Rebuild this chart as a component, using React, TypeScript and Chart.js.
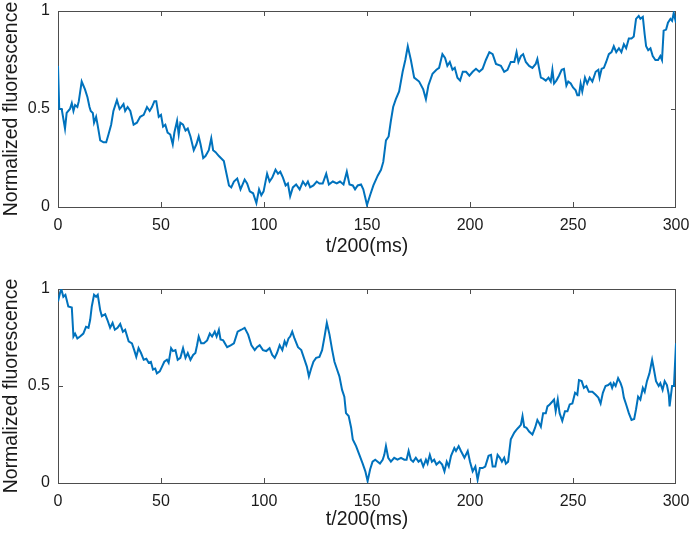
import React, { useEffect, useRef } from "react";
import { Chart, registerables } from "chart.js";

Chart.register(...registerables);

// ---------- data ----------
const topT = [0,0.6,1.8,3.4,4.2,5.8,6.7,7.5,8.3,9.4,10.1,11.5,13.1,14.3,15.3,15.9,16.9,17.5,18.5,19.2,20.5,22.1,23.4,24.5,25.8,26.9,28.6,29.9,30.7,31.8,32.6,33.8,35.1,36.7,38.3,39.9,41.6,43.2,44.5,45.6,46.8,47.7,48.9,50,51,52.1,53.2,54.5,55.7,56.5,57.8,58.6,59.4,60.7,61.9,63,64.3,65.9,67.2,68.3,69.2,70.5,71.6,73.2,74.4,75.3,76.5,78.1,80.5,81.8,83,84.1,85.4,87,88.6,90.6,91.8,93.1,94.7,96.3,97.6,98.7,99.8,101.5,102.7,104,105.6,106.8,107.9,109.2,110.5,111.6,112.7,114,115.6,117.3,118.9,120.2,121.3,122.4,124,125.6,126.9,128.5,130.2,131.5,133.4,135.3,136.9,138.6,140.2,141.5,143.1,144.2,145.5,147.1,148.2,150,151.5,153.1,155.2,156.8,157.9,159.2,160.5,161.6,162.7,164,165.6,167.3,168.6,169.8,171.3,172.9,175.3,177.3,178.6,179.8,181.8,183.7,185,186.6,187.9,189,190.2,191.5,192.6,193.9,195.2,196.5,198.1,199.7,201.3,202.9,204.5,206.1,207.7,209.4,211,212.6,215,216.6,218.2,219.8,221.5,222.6,223.5,224.7,225.8,227.1,228.7,230.3,231.9,232.7,233.5,234.4,235.5,236.8,238.1,239.2,240,240.8,241.9,243.2,244.5,245.6,246.8,247.7,248.9,250,251.3,252.1,252.9,253.7,254.5,255.8,256.9,258.1,259.4,261,262.3,262.9,263.9,265,266.1,267.4,268.7,269.8,271,272.3,273.5,274.7,275.8,277.1,278.4,279.5,280.6,281.9,282.7,283.9,284.8,285.5,286.5,287.6,288.7,290,291.3,292.4,293.2,294,295.2,296.1,297.3,298.1,298.9,300];
const topF = [0.72,0.5,0.5,0.4,0.48,0.5,0.53,0.49,0.52,0.51,0.54,0.64,0.6,0.56,0.51,0.49,0.48,0.43,0.46,0.42,0.34,0.33,0.33,0.37,0.42,0.49,0.545,0.5,0.51,0.525,0.49,0.51,0.49,0.42,0.43,0.46,0.47,0.51,0.49,0.51,0.54,0.54,0.46,0.47,0.41,0.42,0.38,0.37,0.32,0.38,0.44,0.37,0.43,0.42,0.39,0.4,0.36,0.29,0.32,0.36,0.32,0.25,0.26,0.29,0.35,0.29,0.28,0.26,0.235,0.17,0.11,0.1,0.13,0.145,0.09,0.14,0.12,0.08,0.07,0.02,0.09,0.06,0.08,0.17,0.13,0.15,0.19,0.17,0.18,0.15,0.11,0.12,0.055,0.1,0.115,0.09,0.13,0.11,0.13,0.1,0.11,0.13,0.12,0.12,0.17,0.115,0.13,0.12,0.13,0.115,0.18,0.115,0.11,0.09,0.11,0.115,0.09,0.01,0.06,0.11,0.16,0.19,0.23,0.34,0.36,0.44,0.51,0.55,0.59,0.69,0.75,0.82,0.75,0.66,0.64,0.6,0.55,0.62,0.68,0.7,0.71,0.78,0.76,0.72,0.74,0.7,0.71,0.66,0.645,0.69,0.69,0.67,0.69,0.705,0.69,0.705,0.75,0.79,0.78,0.73,0.72,0.69,0.7,0.74,0.74,0.79,0.74,0.77,0.78,0.74,0.72,0.71,0.73,0.755,0.71,0.66,0.655,0.645,0.66,0.64,0.7,0.63,0.645,0.67,0.7,0.705,0.62,0.64,0.63,0.61,0.595,0.57,0.57,0.63,0.59,0.66,0.63,0.66,0.64,0.69,0.7,0.66,0.705,0.71,0.74,0.78,0.79,0.82,0.79,0.81,0.79,0.83,0.81,0.86,0.86,0.87,0.96,0.975,0.96,0.97,0.88,0.82,0.8,0.81,0.77,0.75,0.75,0.77,0.75,0.9,0.905,0.94,0.96,0.95,0.99,0.94];

const bottomT = [0,1,1.6,2.6,3.6,4.2,5,6.7,7.5,8.3,9.4,10.7,12.3,13.6,14.8,15.6,16.4,17.5,18.5,19.3,20.5,21.3,22.9,24,25.3,26.5,27.6,28.9,30.2,31.5,32.6,34.3,35.9,37,38,39.1,40.3,41.6,42.9,44,45.1,46.1,47.2,48,49.4,50.5,51.6,52.9,53.7,54.9,55.8,57,58.1,59.4,60.7,61.9,63,64.3,65.6,66.7,67.5,68.3,69.5,70.8,72.4,73.7,74.8,76.1,77,78.1,78.9,80.2,82.1,83.8,85.4,87.2,89,90.6,92.3,93.9,95.5,96.6,97.9,99.5,101.1,102.7,104,105.2,106.3,107.6,108.9,110,110.8,111.9,112.7,113.7,114.8,116.5,118.1,119.7,120.8,121.8,122.9,124,125.3,126.9,128.2,129.4,130.5,131.8,133.1,134.2,135.3,136.6,137.9,139,139.8,141.1,142.3,143.1,144.7,146.3,147.9,149.2,150.3,151.5,152.7,154,155.2,156.3,157.6,158.4,159.2,160.3,161.6,163.2,164.8,166.5,168.1,169.2,170.2,171.3,172.4,173.7,175,176.1,177.3,178.6,179.4,180.5,181.5,182.6,183.7,185.2,186.5,187.6,188.7,189.7,190.8,192.4,193.2,194.5,195.6,197.3,198.9,200,201.3,202.6,203.7,204.8,206.1,207.4,209,210.2,211,212.3,213.4,214.5,215.5,216.6,217.4,218.5,219.8,221.5,222.6,223.9,224.7,225.5,226.3,227.4,228.7,230.3,231.6,232.7,233.5,234.4,235.5,236.8,237.6,238.7,240,240.8,241.6,242.6,243.5,244.8,246.1,247.3,248.4,249.7,251,252.1,252.9,254.2,255.3,256.5,257.7,259.4,261,262.3,263.4,264.5,265.8,267.1,268.2,269,269.8,270.7,271.9,273.1,273.9,274.7,275.8,277.1,278.4,279.7,280.6,281.6,282.7,283.9,284.8,285.9,287.1,288.4,289.2,290.3,291.6,292.4,293.5,294.5,295.6,296.5,296.9,298.1,299,300];
const bottomF = [0.935,0.98,1,0.96,0.97,0.945,0.91,0.905,0.755,0.77,0.745,0.755,0.77,0.805,0.8,0.84,0.91,0.97,0.96,0.97,0.89,0.86,0.87,0.84,0.8,0.825,0.79,0.8,0.82,0.78,0.79,0.73,0.72,0.685,0.65,0.695,0.67,0.635,0.64,0.62,0.625,0.585,0.59,0.565,0.575,0.6,0.625,0.635,0.62,0.695,0.68,0.685,0.635,0.645,0.695,0.645,0.67,0.635,0.66,0.67,0.71,0.755,0.72,0.72,0.735,0.77,0.755,0.78,0.755,0.79,0.74,0.735,0.7,0.71,0.72,0.78,0.79,0.8,0.765,0.71,0.685,0.7,0.71,0.685,0.68,0.695,0.66,0.645,0.67,0.71,0.685,0.73,0.71,0.745,0.755,0.78,0.745,0.7,0.685,0.635,0.6,0.55,0.59,0.625,0.645,0.65,0.685,0.755,0.825,0.765,0.685,0.625,0.59,0.55,0.48,0.445,0.36,0.345,0.285,0.225,0.19,0.145,0.1,0.06,0.01,0.07,0.11,0.12,0.11,0.1,0.12,0.145,0.19,0.13,0.11,0.13,0.12,0.13,0.12,0.12,0.165,0.12,0.11,0.13,0.11,0.12,0.085,0.12,0.1,0.145,0.11,0.12,0.095,0.11,0.095,0.06,0.11,0.085,0.14,0.18,0.165,0.19,0.165,0.13,0.165,0.11,0.06,0.085,0.017,0.077,0.077,0.085,0.14,0.145,0.085,0.085,0.145,0.13,0.11,0.13,0.1,0.11,0.225,0.26,0.275,0.29,0.3,0.345,0.29,0.285,0.265,0.25,0.285,0.325,0.31,0.29,0.36,0.36,0.395,0.405,0.42,0.43,0.37,0.43,0.36,0.32,0.37,0.37,0.405,0.41,0.465,0.455,0.53,0.525,0.49,0.5,0.47,0.47,0.455,0.44,0.41,0.465,0.5,0.505,0.515,0.49,0.515,0.5,0.54,0.515,0.49,0.44,0.405,0.36,0.325,0.33,0.38,0.445,0.43,0.49,0.47,0.525,0.565,0.635,0.59,0.525,0.5,0.515,0.48,0.525,0.505,0.455,0.395,0.5,0.5,0.72];

const xTicks = [0, 50, 100, 150, 200, 250, 300];
const yTicks = [0, 0.5, 1];
const xLabel = "t/200(ms)";
const yLabel = "Normalized fluorescence";

// ---------- style ----------
const W = 691;
const FONT = "'Liberation Sans', Arial, Helvetica, sans-serif";
const LINE_COLOR = "#0072BD";
const TEXT_COLOR = "#1a1a1a";
const AXIS_COLOR = "#4d4d4d";

const framePlugin = {
  id: "matlabFrame",
  beforeDatasetsDraw(chart: any) {
    const { ctx, chartArea } = chart;
    const { left, right, top, bottom } = chartArea;
    const xs = chart.scales.x;
    const ys = chart.scales.y;
    ctx.save();
    ctx.strokeStyle = AXIS_COLOR;
    ctx.lineWidth = 1;
    ctx.strokeRect(left + 0.5, top + 0.5, right - left - 1, bottom - top);
    ctx.beginPath();
    const tl = 5;
    xs.ticks.forEach((t: any) => {
      const px = Math.round(xs.getPixelForValue(t.value)) + 0.5;
      if (px <= left + 1 || px >= right - 1) return;
      ctx.moveTo(px, bottom);
      ctx.lineTo(px, bottom - tl);
      ctx.moveTo(px, top);
      ctx.lineTo(px, top + tl);
    });
    ys.ticks.forEach((t: any) => {
      const py = Math.round(ys.getPixelForValue(t.value)) + 0.5;
      if (py <= top + 1 || py >= bottom - 1) return;
      ctx.moveTo(left, py);
      ctx.lineTo(left + tl, py);
      ctx.moveTo(right, py);
      ctx.lineTo(right - tl, py);
    });
    ctx.stroke();
    ctx.restore();
  },
};

type PanelProps = {
  t: number[];
  f: number[];
  top: number;
  height: number;
  plotTop: number;
  plotBottom: number;
  titlePad: number;
};

function Panel({ t, f, top, height, plotTop, plotBottom, titlePad }: PanelProps) {
  const ref = useRef<HTMLCanvasElement | null>(null);
  useEffect(() => {
    if (!ref.current) return;
    const chart = new Chart(ref.current, {
      type: "line",
      data: {
        datasets: [
          {
            data: t.map((x, i) => ({ x, y: f[i] })),
            borderColor: LINE_COLOR,
            borderWidth: 2,
            pointRadius: 0,
            tension: 0,
            fill: false,
          },
        ],
      },
      options: {
        animation: false,
        responsive: false,
        maintainAspectRatio: false,
        events: [],
        layout: { padding: { top: plotTop, right: 15, left: 0, bottom: 0 } },
        plugins: {
          legend: { display: false },
          tooltip: { enabled: false },
          title: { display: false },
        },
        scales: {
          x: {
            type: "linear",
            min: xTicks[0],
            max: xTicks[xTicks.length - 1],
            afterBuildTicks: (s: any) => {
              s.ticks = xTicks.map((v) => ({ value: v }));
            },
            ticks: {
              padding: 9,
              maxRotation: 0,
              autoSkip: false,
              color: TEXT_COLOR,
              font: { family: FONT, size: 16 },
              callback: (v: any) => String(v),
            },
            grid: { display: false, drawTicks: false },
            border: { display: false },
            title: {
              display: true,
              text: xLabel,
              color: TEXT_COLOR,
              font: { family: FONT, size: 19.5 },
              padding: { top: 0, bottom: titlePad },
            },
            afterFit: (s: any) => {
              s.height = height - plotBottom;
              s.paddingLeft = 0;
              s.paddingRight = 0;
            },
          },
          y: {
            type: "linear",
            min: yTicks[0],
            max: yTicks[yTicks.length - 1],
            afterBuildTicks: (s: any) => {
              s.ticks = yTicks.map((v) => ({ value: v }));
            },
            ticks: {
              padding: 8,
              color: TEXT_COLOR,
              font: { family: FONT, size: 16 },
              callback: (v: any) => String(v),
            },
            grid: { display: false, drawTicks: false },
            border: { display: false },
            title: {
              display: true,
              text: yLabel,
              color: TEXT_COLOR,
              font: { family: FONT, size: 19.5 },
              padding: { top: 0, bottom: 0 },
            },
            afterFit: (s: any) => {
              s.width = 58;
              s.paddingTop = 0;
              s.paddingBottom = 0;
            },
          },
        },
      },
      plugins: [framePlugin],
    } as any);
    return () => chart.destroy();
  }, []);
  return (
    <canvas
      ref={ref}
      width={W}
      height={height}
      style={{ position: "absolute", left: 0, top, width: W, height }}
    />
  );
}

export default function App() {
  return (
    <div
      style={{
        position: "fixed",
        left: 0,
        top: 0,
        width: W,
        height: 536,
        background: "#ffffff",
      }}
    >
      <Panel t={topT} f={topF} top={0} height={268} plotTop={11} plotBottom={207} titlePad={9.3} />
      <Panel t={bottomT} f={bottomF} top={268} height={268} plotTop={21} plotBottom={215} titlePad={4.3} />
    </div>
  );
}
